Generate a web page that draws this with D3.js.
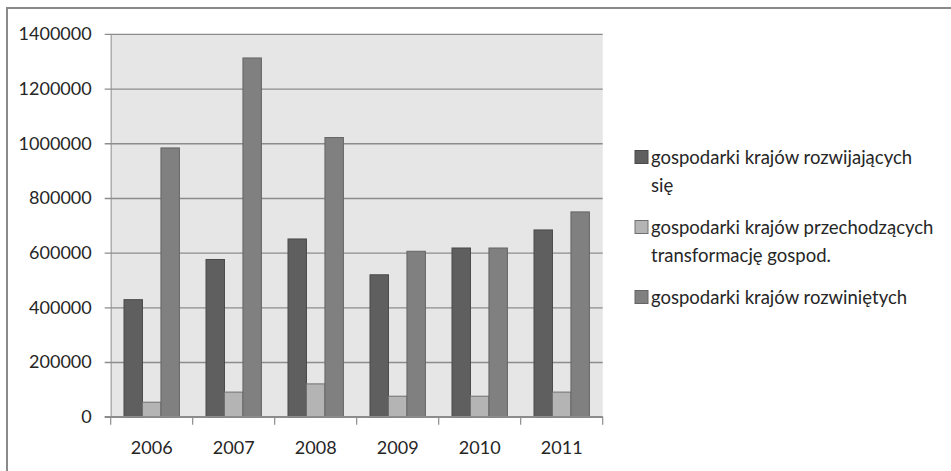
<!DOCTYPE html>
<html>
<head>
<meta charset="utf-8">
<script src="https://cdn.jsdelivr.net/npm/d3@7"></script>
<style>
  html, body { margin: 0; padding: 0; background: #ffffff; overflow: hidden; }
  svg { display: block; }
  text { font-family: Lato, "Open Sans", sans-serif; fill: #262626; }
</style>
</head>
<body>
<svg id="chart" width="951" height="471"></svg>
<script>
// Years on the category axis
const years = ["2006", "2007", "2008", "2009", "2010", "2011"];

// Series names (legend lines)
const seriesNames = [
  ["gospodarki krajów rozwijających", "się"],
  ["gospodarki krajów przechodzących", "transformację gospod."],
  ["gospodarki krajów rozwiniętych"]
];

// Values per series, one per year
const developing   = [428000, 575000, 650000, 519000, 617000, 683000];
const transition   = [53000, 90000, 120000, 75000, 75000, 90000];
const developed    = [983000, 1312000, 1021000, 605000, 617000, 749000];

// Y axis tick values
const yTicks = [0, 200000, 400000, 600000, 800000, 1000000, 1200000, 1400000];

const seriesValues = [developing, transition, developed];
const seriesFill   = ["#5f5f5f", "#b4b4b4", "#808080"];
const seriesStroke = ["#4a4a4a", "#707070", "#656565"];

const svg = d3.select("#chart");

// Outer chart frame: only the top and left edges fall inside the view
svg.append("path")
  .attr("d", "M7,480 V8 H960")
  .attr("fill", "none")
  .attr("stroke", "#8a8a8a")
  .attr("stroke-width", 2);

const plot = { left: 110.7, right: 602.7, top: 33.9, bottom: 416.7 };

const x0 = d3.scaleBand().domain(years).range([plot.left, plot.right]);
const x1 = d3.scaleBand().domain(d3.range(seriesValues.length))
  .range([0, x0.bandwidth()]).paddingInner(0).paddingOuter(0.72);
const y = d3.scaleLinear().domain([0, 1400000]).range([plot.bottom, plot.top]);

// Plot area background
svg.append("rect")
  .attr("x", plot.left).attr("y", plot.top)
  .attr("width", plot.right - plot.left).attr("height", plot.bottom - plot.top)
  .attr("fill", "#e6e6e6");

// Y axis with gridlines
const yAxis = d3.axisLeft(y).tickValues(yTicks).tickFormat(d3.format("d"))
  .tickSizeInner(-(plot.right - plot.left)).tickSizeOuter(0).tickPadding(12);
const yg = svg.append("g").attr("transform", `translate(${plot.left},0)`).call(yAxis);
yg.select(".domain").attr("stroke", "#a0a0a0").attr("stroke-width", 1.2);
yg.selectAll(".tick line")
  .attr("x1", -6)
  .attr("stroke", "#8c8c8c").attr("stroke-width", 1.4);
yg.selectAll(".tick text")
  .attr("x", -19)
  .style("font-size", "18px").style("fill", "#262626");

// Bars
const groups = svg.append("g").selectAll("g")
  .data(years).join("g")
  .attr("transform", d => `translate(${x0(d)},0)`);

groups.selectAll("rect")
  .data((d, i) => seriesValues.map((vals, s) => ({ s, v: vals[i] })))
  .join("rect")
  .attr("x", d => x1(d.s))
  .attr("width", x1.bandwidth())
  .attr("y", d => y(d.v))
  .attr("height", d => y(0) - y(d.v))
  .attr("fill", d => seriesFill[d.s])
  .attr("stroke", d => seriesStroke[d.s])
  .attr("stroke-width", 1);

// X axis
const xAxis = d3.axisBottom(x0).tickSize(0).tickPadding(25);
const xg = svg.append("g").attr("transform", `translate(0,${plot.bottom})`).call(xAxis);
xg.select(".domain").remove();
xg.append("line")
  .attr("x1", plot.left - 6).attr("x2", plot.right)
  .attr("stroke", "#8c8c8c").attr("stroke-width", 1.4);
xg.selectAll(".boundary")
  .data(years.concat(["end"])).join("line")
  .attr("class", "boundary")
  .attr("x1", (d, i) => i < years.length ? x0(d) : plot.right)
  .attr("x2", (d, i) => i < years.length ? x0(d) : plot.right)
  .attr("y1", 0).attr("y2", 8)
  .attr("stroke", "#8c8c8c").attr("stroke-width", 1.2);
xg.selectAll(".tick text")
  .style("font-size", "18px").style("fill", "#262626");

// Legend
const legend = svg.append("g");
const lineH = 27.5;
let baseline = 164;
seriesNames.forEach((lines, s) => {
  legend.append("rect")
    .attr("x", 635).attr("y", baseline - 13.5)
    .attr("width", 13).attr("height", 13)
    .attr("fill", seriesFill[s])
    .attr("stroke", seriesStroke[s]).attr("stroke-width", 1);
  lines.forEach((t, j) => {
    legend.append("text")
      .attr("x", 651).attr("y", baseline + j * lineH)
      .style("font-size", "18.5px")
      .text(t);
  });
  baseline += lines.length * lineH + 15;
});
</script>
</body>
</html>
